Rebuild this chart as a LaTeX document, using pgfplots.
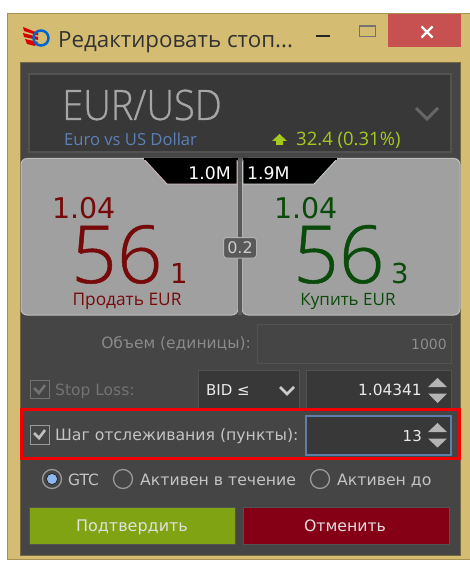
\documentclass[border=0pt]{standalone}
\usepackage{fontspec}
\usepackage{graphicx}
\setmainfont{Open Sans}
\newfontfamily\ui{DejaVu Sans}
\newfontfamily\lightf[FakeBold=0.6]{Open Sans Light}
\usepackage{pgfplots}
\pgfplotsset{compat=1.18}

\definecolor{frame}{HTML}{D4BC72}
\definecolor{frameline}{HTML}{A89050}
\definecolor{closered}{HTML}{C75050}
\definecolor{panel}{HTML}{454545}
\definecolor{dark}{HTML}{383838}
\definecolor{edge}{HTML}{525252}
\definecolor{btn}{HTML}{A0A0A0}
\definecolor{btnline}{HTML}{BDBDBD}
\definecolor{sell}{HTML}{760A0A}
\definecolor{buy}{HTML}{0A4A0A}
\definecolor{lime}{HTML}{A4CA1E}
\definecolor{mute}{HTML}{8A8A8A}
\definecolor{arrow}{HTML}{B4B4B4}
\definecolor{okgreen}{HTML}{7FA313}
\definecolor{nored}{HTML}{850015}
\definecolor{euroblue}{HTML}{5C80B8}
\definecolor{uitext}{HTML}{C4C4C4}

% x0 y0 x1 y1 style
\newcommand{\uibox}[5]{\addplot[#5] coordinates {(#1,#2)(#3,#2)(#3,#4)(#1,#4)} --cycle;}
% x y anchor size colour text
\newcommand{\txt}[6]{\node[anchor=#3,inner sep=0pt,text=#5,font=\fontsize{#4}{#4}\selectfont] at (axis cs:#1,#2) {#6};}
\newcommand{\uitxt}[6]{\node[anchor=#3,inner sep=0pt,text=#5,font=\ui\fontsize{#4}{#4}\selectfont] at (axis cs:#1,#2) {#6};}
\newcommand{\lighttxt}[6]{\node[anchor=#3,inner sep=0pt,text=#5,font=\lightf\fontsize{#4}{#4}\selectfont] at (axis cs:#1,#2) {#6};}
\newcommand{\poly}[2]{\addplot[#1] coordinates {#2} --cycle;}
\newcommand{\pline}[2]{\addplot[#1] coordinates {#2};}

\begin{document}
\begin{tikzpicture}
\begin{axis}[
    width=470pt, height=561pt, scale only axis,
    xmin=0, xmax=470, ymin=0, ymax=561, y dir=reverse,
    axis lines=none, clip=true,
]
% page
\uibox{0}{0}{470}{561}{fill=white,draw=none}
% window
\uibox{7.5}{13.5}{472}{559.5}{fill=frame,draw=frameline,line width=1pt}
\uibox{388}{14}{461}{47}{fill=closered,draw=none}
% logo
\addplot[only marks,mark=o,mark size=7.5pt,mark options={draw=blue!50!cyan!80!black,line width=2.5pt}] coordinates {(41,38)};
\poly{fill=frame,draw=none}{(30,27)(38,27)(38,49)(30,49)}
\poly{fill=red!85!black,draw=none}{(23,27)(38,33)(38,35.5)(24,31)}
\poly{fill=red!85!black,draw=none}{(23,33)(38,37)(38,40)(24,37)}
\poly{fill=red!85!black,draw=none}{(25,39)(38,42)(35,46)(27,44)}
\txt{58}{48}{base west}{22.3}{black!80}{Редактировать стоп...}
\uibox{316}{35}{330}{37.5}{fill=black!85,draw=none}
\uibox{359.5}{25.5}{375}{37}{fill=none,draw=black!55,line width=1pt}
\uibox{359.5}{25.5}{375}{27}{fill=black!55,draw=none}
\pline{draw=white,line width=2.2pt}{(421.5,26.5)(432.5,37.5)}
\pline{draw=white,line width=2.2pt}{(421.5,37.5)(432.5,26.5)}
% dark panel
\uibox{20}{63}{460}{555}{fill=panel,draw=black!45!frame,line width=1pt}
\uibox{29}{74}{451}{152}{fill=dark,draw=edge,line width=1.5pt}
\lighttxt{62}{120}{base west}{42}{black!35}{\scalebox{0.91}[1]{EUR/USD}}
\txt{64}{146}{base west}{16.6}{euroblue}{Euro vs US Dollar}
\pline{draw=black!60,line width=3pt}{(416,108)(427,119)(438,108)}
\poly{fill=lime,draw=none}{(272,141)(279.5,134)(287,141)(283,141)(283,145)(276,145)(276,141)}
\txt{296}{146}{base west}{18.5}{lime}{32.4 (0.31\%)}
% price buttons
\addplot[fill=btn,draw=btnline,line width=1pt,rounded corners=6pt] coordinates {(21,158.5)(238,158.5)(238,315)(21,315)} --cycle;
\addplot[fill=btn,draw=btnline,line width=1pt,rounded corners=6pt] coordinates {(242,158.5)(460,158.5)(460,315)(242,315)} --cycle;
\uibox{238}{158}{242}{315}{fill=black!65,draw=none}
\poly{fill=black,draw=sell!25!white,line width=0.8pt}{(144,159)(237,159)(237,184)(167,184)}
\poly{fill=black,draw=buy!20!white,line width=0.8pt}{(243,159)(337,159)(314,184)(243,184)}
\uibox{144}{158}{237.5}{160}{fill=black,draw=none}
\uibox{243}{158}{337}{160}{fill=black,draw=none}
\uitxt{231}{179.5}{base east}{17.3}{white}{1.0M}
\uitxt{247}{179.5}{base west}{17.3}{white}{1.9M}
\addplot[fill=black!65,draw=black!30,line width=1pt,rounded corners=3pt] coordinates {(223.5,237.5)(256.5,237.5)(256.5,258)(223.5,258)} --cycle;
\uitxt{240}{253}{base}{16}{black!20}{0.2}
\uitxt{52}{218}{base west}{28.5}{sell}{1.04}
\lighttxt{71}{283}{base west}{80}{sell}{56}
\uitxt{170}{283}{base west}{27.5}{sell}{1}
\txt{127}{305.5}{base}{17.3}{sell}{Продать EUR}
\uitxt{274}{218}{base west}{28.5}{buy}{1.04}
\lighttxt{293}{283}{base west}{80}{buy}{56}
\uitxt{391}{283}{base west}{27.5}{buy}{3}
\txt{348}{305.5}{base}{17}{buy}{Купить EUR}
% volume row
\uitxt{251}{348}{base east}{15.5}{mute}{Объем (единицы):}
\uibox{257}{324.5}{451}{363}{fill=panel,draw=edge,line width=1pt}
\uitxt{447}{349}{base east}{14}{black!45}{1000}
% stop loss row
\uibox{30}{380}{49}{398}{fill=panel,draw=black!55,line width=1pt}
\pline{draw=black!55,line width=2.5pt}{(34,388)(39,393)(45,385)}
\uitxt{55}{395}{base west}{15.5}{black!55}{Stop Loss:}
\uibox{198}{370}{299}{408}{fill=dark,draw=edge,line width=1pt}
\uitxt{206}{395}{base west}{15}{black!8}{BID ≤}
\pline{draw=black!20,line width=2.8pt}{(280,387)(287,394)(294,387)}
\uibox{306}{370}{451}{408}{fill=dark,draw=edge,line width=1pt}
\uitxt{422}{395}{base east}{15.4}{black!8}{1.04341}
\poly{fill=arrow,draw=none}{(428,387)(447,387)(437.5,378)}
\poly{fill=arrow,draw=none}{(428,393.5)(447,393.5)(437.5,403)}
% trailing step row
\uibox{306}{416}{451}{455}{fill=dark,draw={rgb,255:red,92;green,126;blue,168},line width=1.2pt}
\uibox{30}{425}{49}{444}{fill=panel,draw=black!40,line width=1pt}
\pline{draw=black!25,line width=2.6pt}{(34,433)(39,438)(45,430)}
\uitxt{55}{440}{base west}{15.7}{uitext}{Шаг отслеживания (пункты):}
\uitxt{422}{441}{base east}{15}{black!8}{13}
\poly{fill=arrow,draw=none}{(428,432)(447,432)(437.5,423)}
\poly{fill=arrow,draw=none}{(428,438.5)(447,438.5)(437.5,447.5)}
\uibox{21.5}{409}{459}{458}{fill=none,draw=red!95!black,line width=3pt}
% radios
\addplot[only marks,mark=*,mark size=9.5pt,mark options={fill=panel,draw=black!40,line width=1.3pt}] coordinates {(52,479)(123,479)(320,479)};
\addplot[only marks,mark=*,mark size=5.5pt,mark options={fill={rgb,255:red,141;green,184;blue,240},draw=none}] coordinates {(52,479)};
\uitxt{68}{485}{base west}{15.5}{uitext}{GTC}
\uitxt{140}{485}{base west}{15.7}{uitext}{Активен в течение}
\uitxt{337}{485}{base west}{15.7}{uitext}{Активен до}
% action buttons
\uibox{29}{507}{235}{544}{fill=okgreen,draw=edge,line width=1pt}
\uibox{243}{507}{449}{544}{fill=nored,draw=edge,line width=1pt}
\uitxt{132}{531}{base}{16}{black!12}{Подтвердить}
\uitxt{345}{531}{base}{15.7}{black!12}{Отменить}
\end{axis}
\end{tikzpicture}
\end{document}
